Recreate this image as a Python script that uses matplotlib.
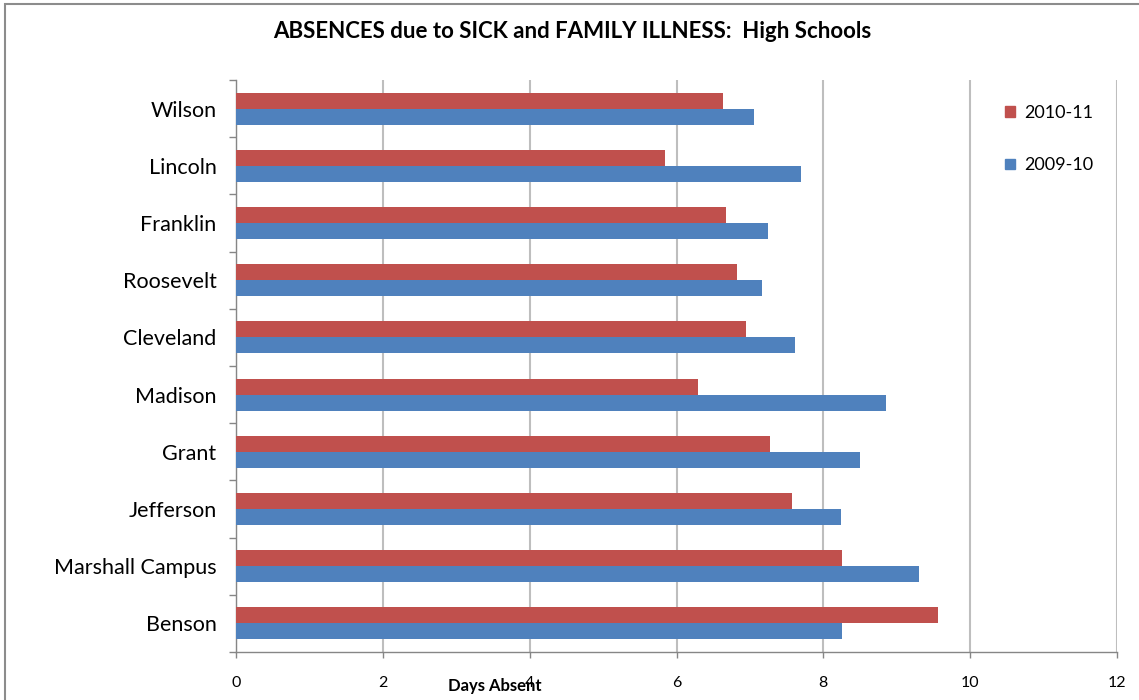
import numpy as np
import matplotlib.pyplot as plt
from matplotlib.patches import Patch, Rectangle

plt.rcParams['font.family'] = ['Lato', 'DejaVu Sans']

# schools, listed bottom to top as they appear on the chart
schools = ['Benson', 'Marshall Campus', 'Jefferson', 'Grant', 'Madison',
           'Cleveland', 'Roosevelt', 'Franklin', 'Lincoln', 'Wilson']
days_2010_11 = [9.56, 8.26, 7.58, 7.28, 6.29, 6.94, 6.82, 6.68, 5.84, 6.63]
days_2009_10 = [8.26, 9.30, 8.24, 8.50, 8.85, 7.62, 7.17, 7.24, 7.69, 7.06]
x_ticks = [0, 2, 4, 6, 8, 10, 12]

RED = '#C0504D'
BLUE = '#4F81BD'
W, H = 1139, 700

fig = plt.figure(figsize=(W / 100, H / 100), dpi=100)
ax = fig.add_axes([236 / W, (H - 652) / H, (1117 - 236) / W, (652 - 80) / H])

y = np.arange(len(schools))
bh = 0.28
ax.barh(y + bh / 2, days_2010_11, height=bh, color=RED, zorder=3)
ax.barh(y - bh / 2, days_2009_10, height=bh, color=BLUE, zorder=3)

ax.set_xlim(0, 12)
ax.set_ylim(-0.5, len(schools) - 0.5)
ax.set_xticks(x_ticks)
ax.set_xticklabels([str(t) for t in x_ticks], fontsize=11.5)
ax.xaxis.grid(True, color='#BEBEBE', linewidth=1.5, zorder=0)

ax.set_yticks(y)
ax.set_yticklabels(schools, fontsize=15.5)
ax.set_yticks(np.arange(-0.5, len(schools), 1), minor=True)
ax.tick_params(axis='y', which='major', length=0, pad=14)
ax.tick_params(axis='y', which='minor', length=5, width=1, color='#868686', direction='out')
ax.tick_params(axis='x', length=4, width=1, color='#868686', direction='out', pad=13)

for side in ['top', 'right']:
    ax.spines[side].set_visible(False)
for side in ['left', 'bottom']:
    ax.spines[side].set_color('#868686')
    ax.spines[side].set_linewidth(1)

fig.text(572 / W, 1 - 32 / H, 'ABSENCES due to SICK and FAMILY ILLNESS:  High Schools',
         ha='center', va='center', fontsize=16, fontweight='bold')
fig.text(495 / W, 1 - 686 / H, 'Days Absent', ha='center', va='center',
         fontsize=12, fontweight='bold')

handles = [Patch(color=RED, label='2010-11'), Patch(color=BLUE, label='2009-10')]
ax.legend(handles=handles, loc='upper left', bbox_to_anchor=(989 / W, 1 - 89 / H),
          bbox_transform=fig.transFigure, frameon=False, fontsize=13,
          handlelength=0.55, handleheight=0.55, handletextpad=0.5, labelspacing=2.0)

fig.add_artist(Rectangle((5 / W, -0.1), 1.2, 1.1 - 4 / H, transform=fig.transFigure,
                         fill=False, edgecolor='#8C8C8C', linewidth=1.5))

fig.savefig('out.png', dpi=100)
